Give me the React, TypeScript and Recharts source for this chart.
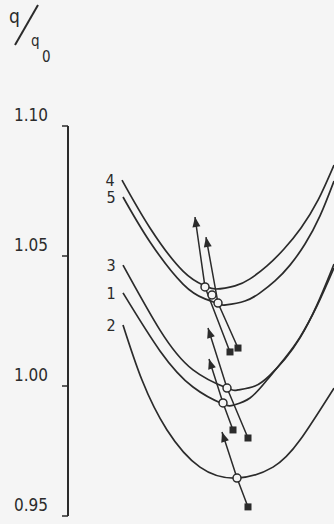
import React from 'react';
import { ComposedChart, Line, Scatter, XAxis, YAxis, LabelList } from 'recharts';

const INK = '#2b2b2b';
const BG = '#f5f5f5';
const FONT = '"DejaVu Sans Condensed", "DejaVu Sans", sans-serif';

const CHART_W = 334;
const CHART_H = 524;
const MARGIN = { top: 126, right: 0, bottom: 8, left: 0 };
const Y_AXIS_W = 68;
const X_DOMAIN: [number, number] = [0, 266];
const Y_DOMAIN: [number, number] = [0.95, 1.1];

const yTicks = [0.95, 1.0, 1.05, 1.1];

// curves: [x, q/q0]
const curve4 = [
  [54, 1.0792], [82, 1.0608], [115, 1.0442], [137, 1.0385], [148, 1.0373],
  [167, 1.0385], [182, 1.0412], [199, 1.0462], [216, 1.0527], [233, 1.0608],
  [250, 1.0715], [266, 1.085],
];
const curve5 = [
  [55, 1.0727], [82, 1.0554], [115, 1.0392], [137, 1.0335], [151, 1.0315],
  [158, 1.0312], [177, 1.0327], [192, 1.0358], [207, 1.0404], [222, 1.0465],
  [237, 1.0546], [252, 1.0654], [266, 1.0788],
];
const curve3 = [
  [55, 1.0465], [92, 1.0215], [125, 1.0062], [159, 0.9992], [170, 0.9985],
  [187, 1.0], [202, 1.0042], [217, 1.0104], [232, 1.0185], [249, 1.0312], [266, 1.0469],
];
const curve1 = [
  [55, 1.0358], [92, 1.0135], [125, 0.9996], [155, 0.9931], [166, 0.9927],
  [182, 0.9954], [199, 1.0023], [217, 1.0108], [232, 1.0188], [249, 1.0308], [266, 1.0454],
];
const curve2 = [
  [55, 1.0235], [74, 1.0023], [99, 0.9831], [132, 0.9688], [169, 0.9646],
  [205, 0.9688], [232, 0.9792], [266, 0.9992],
];

// paths: start (square) -> curve point (circle) -> direction (arrow)
const path4 = [[162, 1.0131], [137, 1.0381], [127, 1.065]];
const path5 = [[170, 1.0146], [150, 1.0319], [138, 1.0573]];
const path3 = [[180, 0.98], [159, 0.9992], [140, 1.0223]];
const path1 = [[165, 0.9831], [155, 0.9935], [141, 1.0104]];
const path2 = [[180, 0.9535], [169, 0.9646], [154, 0.9823]];
const extraCircles = [[144, 1.035]];

const curves = [
  { name: '4', data: curve4 },
  { name: '5', data: curve5 },
  { name: '3', data: curve3 },
  { name: '1', data: curve1 },
  { name: '2', data: curve2 },
];
const paths = [path4, path5, path3, path1, path2];

const toPoints = (arr: number[][]) => arr.map(([x, y]) => ({ x, y }));

const PX_PER_X = (CHART_W - Y_AXIS_W - MARGIN.left - MARGIN.right) / (X_DOMAIN[1] - X_DOMAIN[0]);
const PX_PER_Y = (CHART_H - MARGIN.top - MARGIN.bottom) / (Y_DOMAIN[1] - Y_DOMAIN[0]);

function OpenCircle({ cx, cy }: { cx: number; cy: number }) {
  return <circle cx={cx} cy={cy} r={4} fill={BG} stroke={INK} strokeWidth={1.5} />;
}

function pathDot(path: number[][], id: string) {
  return (props: any) => {
    const { cx, cy, index } = props;
    const key = `${id}-${index}`;
    if (index === 0) {
      return <rect key={key} x={cx - 3.5} y={cy - 3.5} width={7} height={7} fill={INK} />;
    }
    if (index === 1) {
      return <OpenCircle key={key} cx={cx} cy={cy} />;
    }
    const [px, py] = path[index - 1];
    const [qx, qy] = path[index];
    const ang = (Math.atan2(-(qy - py) * PX_PER_Y, (qx - px) * PX_PER_X) * 180) / Math.PI;
    return (
      <polygon
        key={key}
        points="0,0 -10,-4 -10,4"
        fill={INK}
        transform={`translate(${cx},${cy}) rotate(${ang})`}
      />
    );
  };
}

function YTick(props: any) {
  const { x, y, payload } = props;
  return (
    <g>
      <line x1={x - 6} y1={y} x2={x} y2={y} stroke={INK} strokeWidth={1.5} />
      <text x={x - 20} y={y - 5} textAnchor="end" fontSize={17} fill={INK} fontFamily={FONT}>
        {payload.value.toFixed(2)}
      </text>
    </g>
  );
}

export default function App() {
  return (
    <div style={{ position: 'fixed', left: 0, top: 0, width: CHART_W, height: CHART_H, background: BG }}>
      <svg
        width={70}
        height={70}
        style={{ position: 'absolute', left: 0, top: 0 }}
        fontFamily={FONT}
      >
        <text x={9} y={23} fontSize={19} fill={INK}>q</text>
        <line x1={15} y1={45} x2={38} y2={5} stroke={INK} strokeWidth={2} />
        <text x={31} y={46} fontSize={15} fill={INK}>q</text>
        <text x={42} y={62} fontSize={15} fill={INK}>0</text>
      </svg>
      <ComposedChart width={CHART_W} height={CHART_H} margin={MARGIN}>
        <XAxis type="number" dataKey="x" domain={X_DOMAIN} hide allowDataOverflow />
        <YAxis
          type="number"
          domain={Y_DOMAIN}
          ticks={yTicks}
          width={Y_AXIS_W}
          axisLine={{ stroke: INK, strokeWidth: 2 }}
          tickLine={false}
          tickSize={0}
          tickMargin={0}
          tick={<YTick />}
          interval={0}
        />
        {curves.map((c) => (
          <Line
            key={`curve-${c.name}`}
            data={toPoints(c.data)}
            dataKey="y"
            type="natural"
            stroke={INK}
            strokeWidth={1.7}
            dot={false}
            activeDot={false}
            isAnimationActive={false}
          >
            <LabelList
              dataKey="y"
              content={(p: any) =>
                p.index === 0 ? (
                  <text
                    x={p.x - 12}
                    y={p.y + 6}
                    textAnchor="middle"
                    fontSize={16}
                    fill={INK}
                    fontFamily={FONT}
                  >
                    {c.name}
                  </text>
                ) : null
              }
            />
          </Line>
        ))}
        {paths.map((p, i) => (
          <Line
            key={`path-${i}`}
            data={toPoints(p)}
            dataKey="y"
            type="linear"
            stroke={INK}
            strokeWidth={1.5}
            dot={pathDot(p, `p${i}`)}
            activeDot={false}
            isAnimationActive={false}
          />
        ))}
        <Scatter
          data={toPoints(extraCircles)}
          dataKey="y"
          isAnimationActive={false}
          shape={(p: any) => <OpenCircle cx={p.cx} cy={p.cy} />}
        />
      </ComposedChart>
    </div>
  );
}
